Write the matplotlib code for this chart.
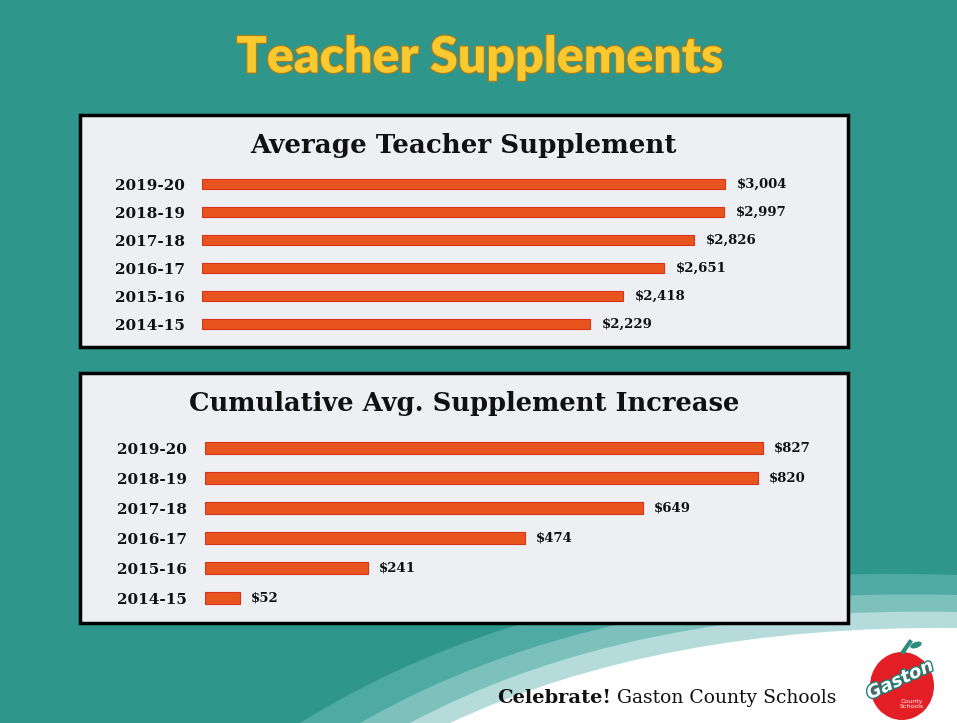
import matplotlib
matplotlib.use("Agg")
import matplotlib.pyplot as plt
import matplotlib.patheffects as pe
from matplotlib.patches import Rectangle, PathPatch, Ellipse
from matplotlib.path import Path

# data
years = ["2019-20", "2018-19", "2017-18", "2016-17", "2015-16", "2014-15"]
avg_supplement = [3004, 2997, 2826, 2651, 2418, 2229]
cum_increase = [827, 820, 649, 474, 241, 52]

W, H = 957, 723
teal = "#2E968B"
bar_col = "#E8541E"
panel_col = "#EDEFF2"
serif = "DejaVu Serif"

fig = plt.figure(figsize=(W / 100, H / 100), dpi=100)
fig.patch.set_facecolor(teal)

# background axes in pixel coords
bg = fig.add_axes([0, 0, 1, 1])
bg.set_xlim(0, W)
bg.set_ylim(H, 0)
bg.axis("off")

# swooshes bottom right
def swoosh(p0, c, p1, color):
    verts = [p0, c, p1, (W, H), p0]
    codes = [Path.MOVETO, Path.CURVE3, Path.CURVE3, Path.LINETO, Path.CLOSEPOLY]
    bg.add_patch(PathPatch(Path(verts, codes), facecolor=color, edgecolor="none"))

swoosh((300, H), (560, 560), (W, 575), "#4FAAA3")
swoosh((360, H), (600, 585), (W, 595), "#7DC1BC")
swoosh((410, H), (630, 605), (W, 612), "#B5DCDA")
swoosh((450, H), (660, 625), (W, 628), "white")

# panels
for (x0, y0, x1, y1) in [(80, 115, 848, 347), (80, 373, 848, 623)]:
    bg.add_patch(Rectangle((x0, y0), x1 - x0, y1 - y0, facecolor=panel_col,
                           edgecolor="black", lw=2.5))

bg.text(480, 58, "Teacher Supplements", ha="center", va="center", fontsize=36,
        fontweight="heavy", family="Lato", color="#F9CA30",
        path_effects=[pe.withStroke(linewidth=1.5, foreground="#B87A10")])

bg.text(464, 146, "Average Teacher Supplement", ha="center", va="center",
        fontsize=18.8, fontweight="bold", family=serif, color="#111111")
bg.text(464, 404, "Cumulative Avg. Supplement Increase", ha="center", va="center",
        fontsize=18.5, fontweight="bold", family=serif, color="#111111")

# footer
t1 = bg.text(497, 698, "Celebrate!", ha="left", va="center", fontsize=14,
             fontweight="bold", family=serif, color="#111111")
fig.canvas.draw()
bb = t1.get_window_extent()
bg.text(bb.x1 + 6, 698, "Gaston County Schools", ha="left", va="center", fontsize=13.5,
        family=serif, color="#111111")

# apple logo
bg.add_patch(Ellipse((902, 686), 64, 68, facecolor="#E31E24", edgecolor="none"))
bg.plot([903, 910], [652, 642], color="#2E8B7E", lw=3)
bg.add_patch(Ellipse((916, 645), 12, 6, angle=-20, facecolor="#2E8B7E", edgecolor="none"))
bg.text(900, 680, "Gaston", ha="center", va="center", fontsize=13, style="italic",
        rotation=25, color="white", family="DejaVu Sans", fontweight="bold",
        path_effects=[pe.withStroke(linewidth=2, foreground="#1F7F78")])
bg.text(912, 704, "County\nSchools", ha="center", va="center", fontsize=4.5,
        color="white", family="DejaVu Sans", linespacing=0.9)


def bar_panel(rect_px, values, xmax, height, pad_px, lab_gap):
    x0, y0, x1, y1 = rect_px
    ax = fig.add_axes([x0 / W, 1 - y1 / H, (x1 - x0) / W, (y1 - y0) / H])
    ax.set_facecolor("none")
    ypos = list(range(len(values)))
    ax.barh(ypos, values, height=height, color=bar_col, edgecolor="#D8321C", lw=0.8)
    ax.set_xlim(0, xmax)
    ax.set_ylim(len(values) - 0.5, -0.5)
    ax.set_yticks(ypos)
    ax.set_yticklabels(years, fontsize=11, fontweight="bold", family=serif, color="#111111")
    ax.tick_params(axis="y", length=0, pad=pad_px * 0.72)
    ax.set_xticks([])
    for s in ax.spines.values():
        s.set_visible(False)
    px_per_unit = (x1 - x0) / xmax
    for y, v in zip(ypos, values):
        ax.text(v + lab_gap / px_per_unit, y, "${:,}".format(v), ha="left", va="center",
                fontsize=9.5, fontweight="bold", family=serif, color="#111111")
    return ax


bar_panel((202, 170, 829, 338), avg_supplement, 3600, 0.36, 17, 12)
bar_panel((205, 433, 812, 613), cum_increase, 900, 0.40, 18, 11)

fig.savefig("out.png", dpi=100, facecolor=fig.get_facecolor())
